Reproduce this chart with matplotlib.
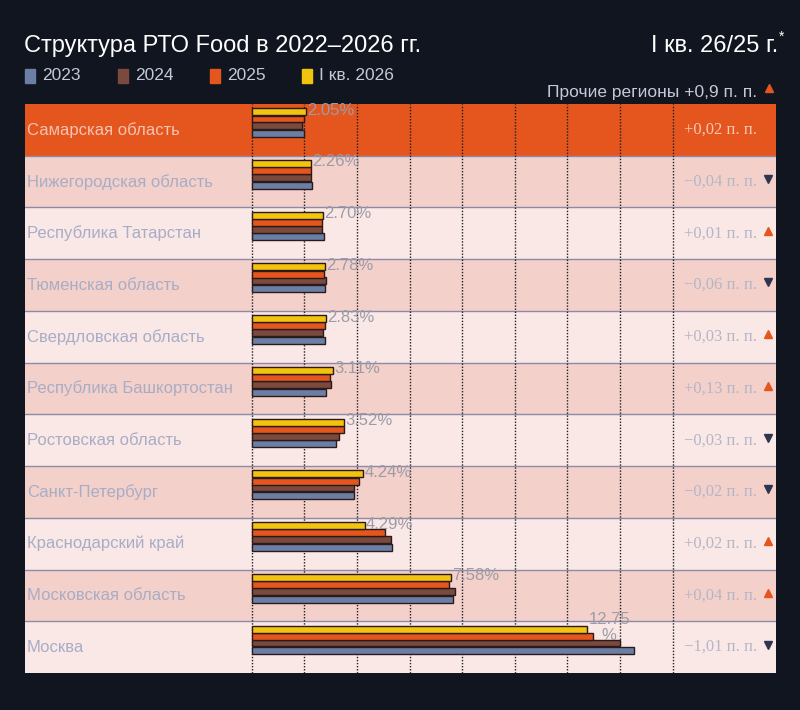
import matplotlib
matplotlib.use('Agg')
import matplotlib.pyplot as plt
from matplotlib.patches import Rectangle
from matplotlib import font_manager

# Данные
regions = ['Самарская область', 'Нижегородская область', 'Республика Татарстан',
           'Тюменская область', 'Свердловская область', 'Республика Башкортостан',
           'Ростовская область', 'Санкт-Петербург', 'Краснодарский край',
           'Московская область', 'Москва']
series_names = ['2023', '2024', '2025', 'I кв. 2026']
v2023 = [2.00, 2.29, 2.75, 2.77, 2.80, 2.84, 3.22, 3.90, 5.34, 7.66, 14.54]
v2024 = [1.92, 2.26, 2.67, 2.81, 2.73, 3.01, 3.33, 3.89, 5.28, 7.73, 14.01]
v2025 = [2.00, 2.26, 2.68, 2.76, 2.80, 2.97, 3.51, 4.09, 5.06, 7.51, 12.97]
v2026 = [2.05, 2.26, 2.70, 2.78, 2.83, 3.11, 3.52, 4.24, 4.29, 7.58, 12.75]
value_labels = ['2.05%', '2.26%', '2.70%', '2.78%', '2.83%', '3.11%',
                '3.52%', '4.24%', '4.29%', '7.58%', '12.75\n%']
changes = ['+0,02 п. п.', '−0,04 п. п.', '+0,01 п. п.', '−0,06 п. п.',
           '+0,03 п. п.', '+0,13 п. п.', '−0,03 п. п.', '−0,02 п. п.',
           '+0,02 п. п.', '+0,04 п. п.', '−1,01 п. п.']
change_up = [True, False, True, False, True, True, False, False, True, True, False]
other_regions = 'Прочие регионы +0,9 п. п.'

BG = '#111520'
ORANGE = '#E4561E'
colors = ['#6B7FA6', '#7A4A3E', ORANGE, '#F2C30F']
ROW_LIGHT = '#FAE8E6'
ROW_DARK = '#F4D0CA'

installed = {f.name for f in font_manager.fontManager.ttflist}
narrow = ['Liberation Sans Narrow', 'Liberation Sans', 'DejaVu Sans']
narrow = [f for f in narrow if f in installed] or ['DejaVu Sans']
sans = ['Liberation Sans', 'DejaVu Sans']
serif = ['Liberation Serif', 'DejaVu Serif']

W, H = 800, 710
fig = plt.figure(figsize=(W / 100, H / 100), dpi=100, facecolor=BG)


def fx(px):
    return px / W


def fy(py):
    return 1 - py / H


# Оси: панель от 25 до 776 px, 0% на 251.7 px, 26.3 px на 1%
left_px, right_px, top_px, bot_px = 25, 776, 104, 673
zero_px, px_per = 251.7, 26.3
ax = fig.add_axes([fx(left_px), fy(bot_px), fx(right_px - left_px), (bot_px - top_px) / H])
ax.set_xlim(-(zero_px - left_px) / px_per, (right_px - zero_px) / px_per)
n = len(regions)
ax.set_ylim(n - 0.5, -0.5)
ax.axis('off')

# Фон строк
for i in range(n):
    if i == 0:
        c = ORANGE
    else:
        c = ROW_DARK if i % 2 == 1 else ROW_LIGHT
    ax.axhspan(i - 0.5, i + 0.5, color=c, zorder=0, lw=0)
    if i > 0:
        ax.axhline(i - 0.5, color='#8E8AA6', lw=1, zorder=1)

# Сетка
for g in range(0, 17, 2):
    ax.axvline(g, color='#1E1E24', lw=1, ls=(0, (1, 1.2)), zorder=1)

# Столбцы
bar_h = 0.135
offsets = [0.07, -0.08, -0.21, -0.35]
ypos = list(range(n))
for vals, off, col in zip([v2023, v2024, v2025, v2026], offsets, colors):
    ax.barh([y + off for y in ypos], vals, height=bar_h, color=col,
            edgecolor='#2B1A18', linewidth=1, zorder=3)

# Подписи значений
for i in range(n):
    ax.text(v2026[i] + 0.05, i + offsets[3] - 0.03, value_labels[i], ha='left', va='center',
            multialignment='center', fontsize=12, color='#9C9CA8', family=sans,
            zorder=4, linespacing=1.1)

# Названия регионов
for i, r in enumerate(regions):
    col = '#F5C3B2' if i == 0 else '#A8ADC6'
    ax.text(-(zero_px - left_px - 2) / px_per, i, r, ha='left', va='center',
            fontsize=12, color=col, family=sans, zorder=4)

# Изменения справа
for i in range(n):
    col = '#F5C7B5' if i == 0 else '#B4B6C8'
    ax.text((757 - zero_px) / px_per, i, changes[i], ha='right', va='center',
            fontsize=12, color=col, family=serif, zorder=4)
    mcol = ORANGE if change_up[i] else '#2E3550'
    ax.plot((768 - zero_px) / px_per, i - 0.05, marker='^' if change_up[i] else 'v',
            ms=5.5, color=mcol, zorder=4, clip_on=False)

# Заголовок
fig.text(fx(24), fy(46), 'Структура РТО Food в 2022–2026 гг.', ha='left', va='center',
         fontsize=17, color='white', family=narrow)
fig.text(fx(778), fy(46), 'I кв. 26/25 г.', ha='right', va='center',
         fontsize=17, color='white', family=narrow)
fig.text(fx(779), fy(37), '*', ha='left', va='center',
         fontsize=10, color='white', family=narrow)

# Легенда
leg_x = [25, 118, 210, 302]
for x, name, col in zip(leg_x, series_names, colors):
    fig.add_artist(Rectangle((fx(x), fy(83)), fx(10), 14 / H, color=col,
                             transform=fig.transFigure))
    fig.text(fx(x + 17), fy(76), name, ha='left', va='center', fontsize=12.5,
             color='#C5C8D8', family=narrow)

fig.text(fx(757), fy(93), other_regions, ha='right', va='center', fontsize=12.5,
         color='#C5C8D8', family=sans)
fig.add_artist(plt.Line2D([fx(769)], [fy(88)], marker='^', ms=5.5, color=ORANGE,
                          transform=fig.transFigure))

fig.savefig('out.png', dpi=100, facecolor=BG)
